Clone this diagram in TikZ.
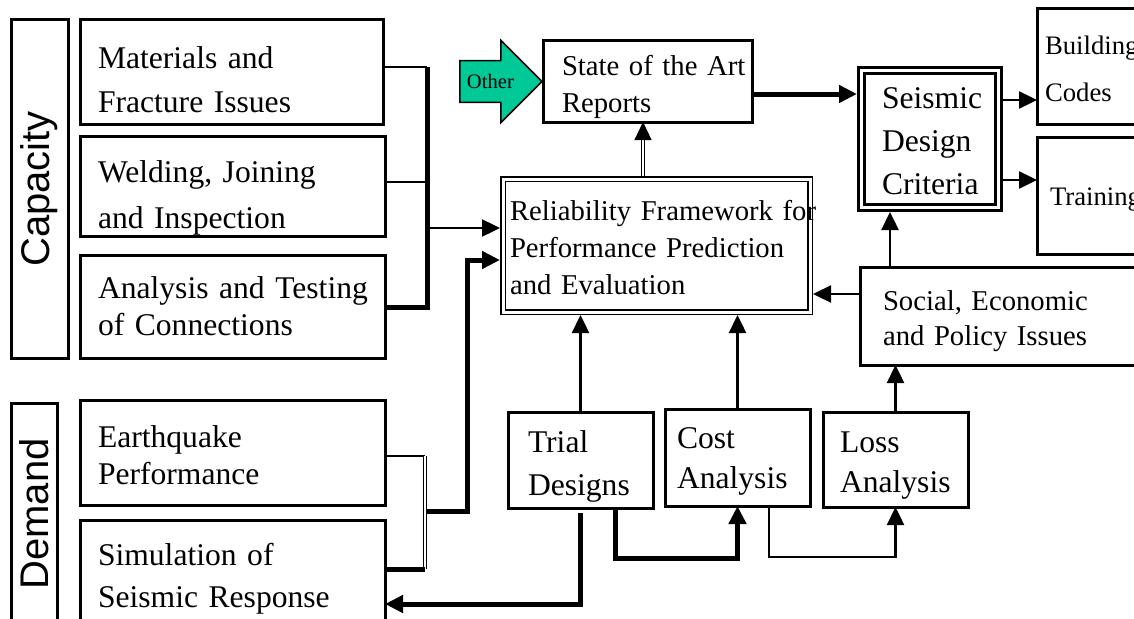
\documentclass[tikz,border=0pt]{standalone}
\usepackage{fontspec}
\setmainfont{Liberation Serif}
\newfontfamily\arialfont{Liberation Sans}
\usetikzlibrary{arrows.meta,shapes.arrows}
\definecolor{othergreen}{RGB}{0,200,150}
\hyphenpenalty=10000
\exhyphenpenalty=10000

\begin{document}
\begin{tikzpicture}[
    x=1pt, y=-1pt,
    box/.style={draw, line width=3pt, align=left, anchor=north west, outer sep=0pt, inner ysep=0pt},
    big/.style={font=\fontsize{31.6pt}{#1}\selectfont}, big/.default=42pt,
    small/.style={font=\fontsize{28.7pt}{#1}\selectfont}, small/.default=37pt,
    side/.style={draw, line width=3pt, rotate=90, inner sep=0pt, font=\arialfont\fontsize{40pt}{40pt}\selectfont},
    other/.style={single arrow, draw, line width=1.5pt, fill=othergreen, anchor=tip, minimum height=82pt,
      single arrow head extend=20pt, inner ysep=13pt, inner xsep=4pt, font=\fontsize{20.6pt}{20.6pt}\selectfont},
    ln/.style={line width=2.4pt},
    thk/.style={line width=5pt},
    dl/.style={double, line width=1.2pt, double distance=2pt},
    arr/.style={-{Triangle[length=18pt,width=17pt]}},
  ]
  \useasboundingbox (0,0) rectangle (1134,618);
  \node[side, minimum width=338pt, minimum height=57pt] (cap) at (39.5,189) {Capacity};
  \node[side, minimum width=222pt, minimum height=46pt] (dem) at (34,514) {Demand};
  \node[box, big=44pt, inner xsep=18pt, text width=267pt, text height=48pt, text depth=56pt] (mat) at (80,20) {Materials and\\Fracture Issues};
  \node[box, big=46pt, inner xsep=18pt, text width=269pt, text height=46pt, text depth=54pt] (weld) at (80,136) {Welding, Joining\\and Inspection};
  \node[box, big=37pt, inner xsep=18pt, text width=269pt, text height=43pt, text depth=60pt] (ana) at (80,255) {Analysis~and~Testing\\of Connections};
  \node[box, big=37pt, inner xsep=18pt, text width=269pt, text height=47pt, text depth=58pt] (eq) at (80,400) {Earthquake\\Performance};
  \node[box, big, inner xsep=18pt, text width=269pt, text height=45pt, text depth=85pt] (sim) at (80,520) {Simulation of\\Seismic Response};
  \node[box, small, double, line width=1.5pt, double distance=3pt, outer sep=3pt, inner xsep=7pt,
    text width=293pt, text height=41pt, text depth=92pt] (rel) at (500,176) {Reliability~Framework~for\\Performance Prediction\\and Evaluation};
  \node[box, small, inner xsep=19pt, text width=171pt, text height=34pt, text depth=47pt] (sota) at (543,41) {State~of~the~Art\\Reports};
  \node[other] (oth) at (sota.west) {Other};
  \node[box, big=43pt, double, line width=3pt, double distance=3pt, outer sep=4.5pt, inner xsep=20.5pt,
    text width=96pt, text height=37.5pt, text depth=99.5pt] (sdc) at (857,66) {Seismic\\Design\\Criteria};
  \node[box, font=\fontsize{26.7pt}{47pt}\selectfont, inner xsep=8pt, text width=124pt, text height=46pt, text depth=69pt] (bc) at (1037,9) {Building\\Codes};
  \node[box, font=\fontsize{26.7pt}{47pt}\selectfont, inner xsep=13pt, text width=114pt, text height=68pt, text depth=49pt] (trn) at (1037,137) {Training};
  \node[box, small=35pt, inner xsep=23pt, text width=254pt, text height=43pt, text depth=55pt] (soc) at (860,267) {Social, Economic\\and Policy Issues};
  \node[box, big=43pt, inner xsep=20pt, text width=105pt, text height=40pt, text depth=56pt] (trial) at (508,412) {Trial\\Designs};
  \node[box, big=40pt, inner xsep=12pt, text width=121pt, text height=39pt, text depth=58pt] (cost) at (665,409) {Cost\\Analysis};
  \node[box, big=40pt, inner xsep=17pt, text width=111pt, text height=40pt, text depth=55pt] (loss) at (823,412) {Loss\\Analysis};

  \coordinate (cb1) at (427,67);
  \coordinate (cb2) at (427,307);
  \coordinate (cin) at (427,228);
  \draw[ln] (mat.east |- cb1) -- (cb1);
  \draw[ln] (weld.east |- 0,182) -- (cb1 |- 0,182);
  \draw[thk] (cb1) -- (cb2) -- (ana.east |- cb2);
  \draw[ln, arr] (cin) -- (cin -| rel.west);

  \coordinate (db1) at (425,456);
  \coordinate (db2) at (425,569);
  \coordinate (dj) at (427,511);
  \coordinate (dk) at (467,260);
  \draw[ln] (eq.east |- db1) -- (db1);
  \draw[dl] (db1) -- (db2);
  \draw[thk] (db2) -- (sim.east |- db2);
  \draw[thk, arr] (dj) -| (dk) -- (dk -| rel.west);

  \draw[dl, arr] (rel.north -| 643,0) -- (sota.south -| 643,0);
  \draw[thk, arr] (sota.east |- 0,94) -- (sdc.west |- 0,94);
  \draw[ln, arr] (sdc.east |- 0,100) -- (bc.west |- 0,100);
  \draw[ln, arr] (sdc.east |- 0,180) -- (trn.west |- 0,180);
  \draw[ln, arr] (soc.north -| 890,0) -- (sdc.south -| 890,0);
  \draw[ln, arr] (soc.west |- 0,294) -- (rel.east |- 0,294);
  \draw[ln, arr] (trial.north) -- (trial.north |- rel.south);
  \draw[ln, arr] (cost.north) -- (cost.north |- rel.south);
  \draw[ln, arr] (loss.north) -- (loss.north |- soc.south);
  \draw[thk, arr, shorten <=5pt] (trial.south) |- (sim.east |- 0,604);
  \draw[thk, arr] (trial.south -| 615,0) |- (cost.south |- 0,558) -- (cost.south);
  \draw[ln, arr] (cost.south -| 769,0) |- (loss.south |- 0,557) -- (loss.south);
\end{tikzpicture}
\end{document}
